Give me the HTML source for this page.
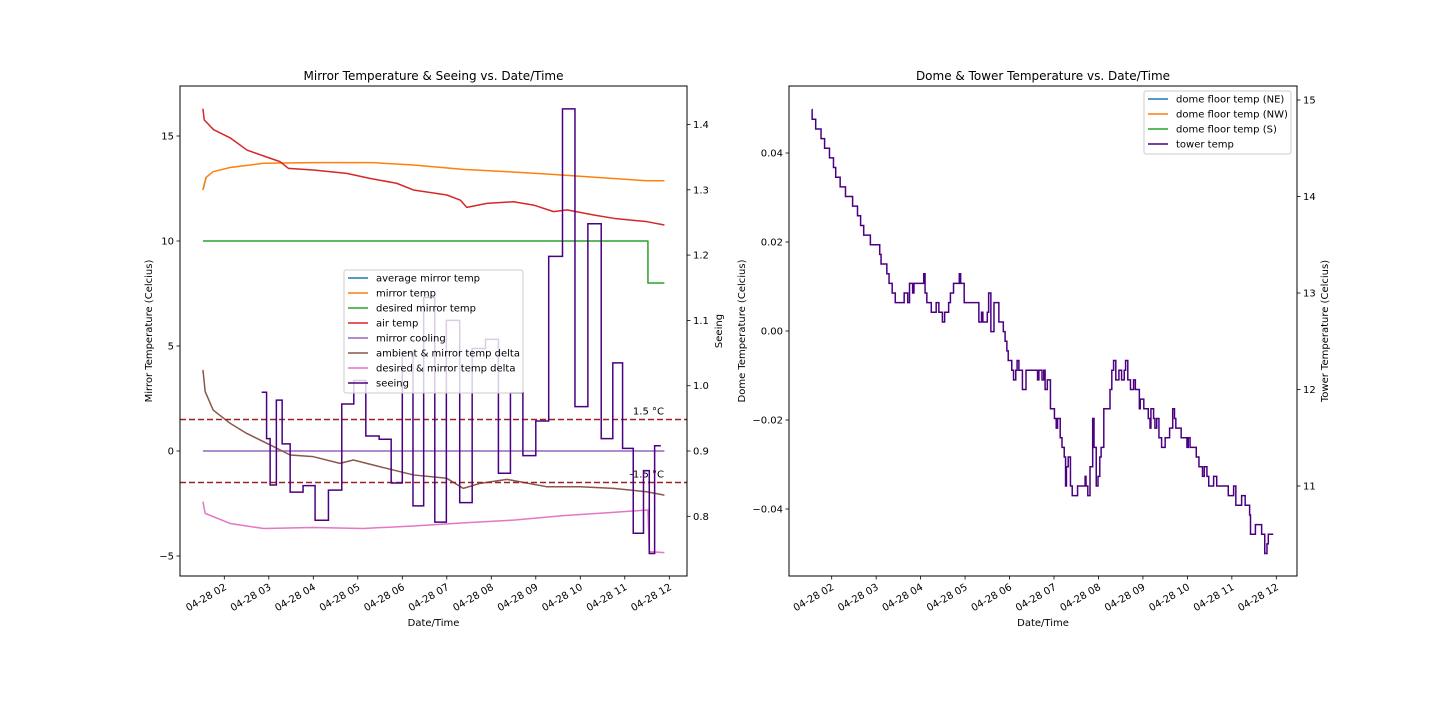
<!DOCTYPE html>
<html><head><meta charset="utf-8">
<style>
html,body{margin:0;padding:0;background:#fff;}
svg{display:block;font-family:"DejaVu Sans","Liberation Sans",sans-serif;}
</style></head>
<body>
<svg id="fig" width="1440" height="720" viewBox="0 0 1440 720" xmlns="http://www.w3.org/2000/svg"></svg>
<script>
// ---------- LEFT CHART DATA ----------
const hourTicks = [2,3,4,5,6,7,8,9,10,11,12];
const hourTickLabels = ["04-28 02","04-28 03","04-28 04","04-28 05","04-28 06","04-28 07","04-28 08","04-28 09","04-28 10","04-28 11","04-28 12"];
const mirrorTempTicks = [-5,0,5,10,15];
const seeingTicks = [0.8,0.9,1.0,1.1,1.2,1.3,1.4];
const seeingTickLabels = ["0.8","0.9","1.0","1.1","1.2","1.3","1.4"];

const airHours = [1.52,1.55,1.76,2.14,2.51,2.95,3.25,3.44,4.0,4.75,5.27,5.87,6.25,7.0,7.3,7.45,7.9,8.5,8.95,9.4,9.7,10.3,10.75,11.5,11.89];
const airTemp  = [16.3,15.76,15.3,14.9,14.33,14.0,13.78,13.46,13.38,13.22,12.98,12.75,12.43,12.19,11.95,11.6,11.79,11.87,11.71,11.4,11.48,11.24,11.08,10.92,10.76];

const mirrorHours = [1.52,1.59,1.75,2.13,2.88,4.0,5.35,6.25,7.37,8.12,9.24,10.37,11.49,11.89];
const mirrorTemp  = [12.43,13.03,13.3,13.5,13.7,13.73,13.73,13.62,13.41,13.33,13.19,13.03,12.87,12.87];

const desiredHours = [1.52,11.52,11.52,11.89];
const desiredTemp  = [10,10,8,8];

const coolingHours = [1.52,11.89];
const coolingValue = [0,0];

const ambDeltaHours = [1.52,1.57,1.75,2.13,2.5,3.03,3.48,4.0,4.6,4.9,5.5,6.25,7.0,7.37,7.75,8.35,9.24,10.0,10.74,11.49,11.89];
const ambDelta      = [3.86,2.83,1.95,1.32,0.84,0.29,-0.19,-0.27,-0.59,-0.43,-0.75,-1.14,-1.30,-1.78,-1.54,-1.35,-1.70,-1.70,-1.78,-1.94,-2.1];

const desDeltaHours = [1.52,1.57,2.13,2.88,4.0,5.12,6.25,7.37,8.5,9.62,10.74,11.52,11.55,11.89];
const desDelta      = [-2.41,-2.97,-3.45,-3.69,-3.64,-3.69,-3.57,-3.42,-3.29,-3.08,-2.92,-2.81,-4.79,-4.84];

const seeingHours = [2.84,2.95,3.03,3.17,3.30,3.48,3.77,4.04,4.34,4.64,4.91,5.18,5.48,5.75,6.00,6.24,6.48,6.73,6.99,7.29,7.57,7.87,8.16,8.43,8.71,9.00,9.29,9.60,9.88,10.17,10.47,10.73,10.95,11.19,11.42,11.55,11.67];
const seeingValue = [0.990,0.919,0.848,0.978,0.911,0.837,0.847,0.794,0.840,0.972,1.008,0.923,0.918,0.851,1.050,0.816,1.135,0.791,1.100,0.821,1.057,1.071,0.866,0.989,0.893,0.946,1.198,1.424,0.968,1.248,0.919,1.035,0.904,0.774,0.870,0.743,0.908];
const seeingEnd = 11.81;
const thresholds = [1.5,-1.5];

// ---------- RIGHT CHART DATA ----------
const domeTicks = [-0.04,-0.02,0.00,0.02,0.04];
const domeTickLabels = ["−0.04","−0.02","0.00","0.02","0.04"];
const towerTicks = [11,12,13,14,15];
const towerHours = [
 1.55,1.56,1.64,1.76,1.84,1.95,2.04,2.09,2.19,2.31,2.47,2.58,2.65,2.72,2.87,3.08,3.11,3.24,3.29,3.36,3.43,
 3.63,3.71,3.75,3.82,3.85,4.07,4.10,4.14,4.24,4.35,4.41,4.49,4.54,4.63,4.67,4.74,4.87,4.90,4.98,
 5.31,5.37,5.40,5.50,5.53,5.58,5.65,5.76,5.86,5.90,5.94,5.97,6.05,6.09,6.14,6.17,6.21,6.29,6.37,
 6.63,6.66,6.73,6.77,6.80,6.85,6.92,
 7.01,7.05,7.08,7.14,7.18,7.23,7.26,7.28,7.32,7.37,7.41,7.53,7.70,7.72,7.76,7.81,7.87,7.90,7.95,7.99,
 8.03,8.06,8.12,8.26,8.30,8.34,8.39,8.46,8.52,8.58,8.61,8.66,8.72,8.79,8.83,8.92,8.94,
 9.02,9.12,9.16,9.18,9.24,9.27,9.31,9.36,9.42,9.50,9.60,9.67,9.71,9.74,9.86,9.99,
 10.02,10.06,10.20,10.26,10.34,10.38,10.44,10.48,10.59,10.66,10.92,
 11.04,11.09,11.22,11.30,11.40,11.42,11.53,11.67,11.74,11.79,11.82];
const towerTemp = [
 14.9,14.8,14.7,14.6,14.5,14.4,14.3,14.2,14.1,14.0,13.9,13.8,13.7,13.6,13.5,13.4,13.3,13.2,13.1,13.0,12.9,
 13.0,12.9,13.1,13.0,13.1,13.2,13.0,12.9,12.8,12.9,12.8,12.7,12.8,12.9,13.0,13.1,13.2,13.1,12.9,
 12.7,12.8,12.7,12.8,13.0,12.6,12.9,12.7,12.6,12.5,12.4,12.3,12.2,12.1,12.2,12.3,12.2,12.0,12.2,
 12.1,12.2,12.1,12.2,12.0,12.1,11.8,
 11.7,11.6,11.7,11.5,11.4,11.3,11.0,11.2,11.3,11.0,10.9,11.0,11.1,11.0,10.9,11.2,11.7,11.4,11.0,11.1,
 11.3,11.4,11.8,12.0,12.2,12.3,12.1,12.2,12.1,12.2,12.3,12.1,12.0,12.1,12.0,11.8,11.9,
 11.8,11.7,11.6,11.8,11.7,11.6,11.7,11.5,11.4,11.5,11.6,11.8,11.7,11.6,11.5,11.4,
 11.5,11.4,11.3,11.2,11.1,11.2,11.1,11.0,11.1,11.0,10.9,
 11.0,10.8,10.9,10.8,10.7,10.5,10.6,10.5,10.3,10.4,10.5];
const towerEnd = 11.93;

// ---------- helpers ----------
const NS = "http://www.w3.org/2000/svg";
const svg = document.getElementById('fig');
function mk(tag, attrs, parent){
  const e = document.createElementNS(NS, tag);
  for (const k in attrs) e.setAttribute(k, attrs[k]);
  (parent||svg).appendChild(e);
  return e;
}
function txt(s, attrs, parent){ const t = mk('text', attrs, parent); t.textContent = s; return t; }

const L = {x0:180, x1:687, y0:86, y1:576};
const lx = h => 224.3 + (h-2)*44.5;
const ly = v => 451 - 21*v;
const sy = s => 451 - 653*(s-0.9);
const R = {x0:789, x1:1297, y0:86, y1:576};
const rx = h => 831.7 + (h-2)*44.46;
const dy = v => 331 - 4450*v;
const ty = t => 486 - 96.5*(t-11);

function linePath(xs, ys, fx, fy){
  return xs.map((x,i)=>(i?'L':'M')+fx(x).toFixed(2)+','+fy(ys[i]).toFixed(2)).join('');
}
function stepPath(xs, ys, end, fx, fy){
  let d = 'M'+fx(xs[0]).toFixed(2)+','+fy(ys[0]).toFixed(2);
  for (let i=1;i<xs.length;i++){
    d += 'L'+fx(xs[i]).toFixed(2)+','+fy(ys[i-1]).toFixed(2);
    d += 'L'+fx(xs[i]).toFixed(2)+','+fy(ys[i]).toFixed(2);
  }
  d += 'L'+fx(end).toFixed(2)+','+fy(ys[ys.length-1]).toFixed(2);
  return d;
}

// ===== LEFT CHART =====
const gL = mk('g', {});



const series = [
  {xs:mirrorHours, ys:mirrorTemp, c:'#1f77b4', n:'average-mirror-temp-line', sl:[1.52,1.59], sv:[12.43,13.03]},
  {xs:mirrorHours, ys:mirrorTemp, c:'#ff7f0e', n:'mirror-temp-line'},
  {xs:desiredHours, ys:desiredTemp, c:'#2ca02c', n:'desired-mirror-temp-line'},
  {xs:airHours, ys:airTemp, c:'#d62728', n:'air-temp-line'},
  {xs:coolingHours, ys:coolingValue, c:'#9467bd', n:'mirror-cooling-line'},
  {xs:ambDeltaHours, ys:ambDelta, c:'#8c564b', n:'ambient-mirror-delta-line'},
  {xs:desDeltaHours, ys:desDelta, c:'#e377c2', n:'desired-mirror-delta-line'}
];
series.forEach(s=>{
  const xs = s.sl||s.xs, ys = s.sv||s.ys;
  const p = mk('path', {d:linePath(xs, ys, lx, ly), fill:'none', stroke:s.c, 'stroke-width':1.5, 'stroke-linejoin':'round'}, gL);
  
  
});
thresholds.forEach((t,i)=>{
  const l = mk('line', {x1:L.x0, x2:L.x1, y1:ly(t), y2:ly(t), stroke:'#9b2222', 'stroke-width':1.6, 'stroke-dasharray':'6,3'}, gL);
  
  
  const tt = txt((t>0?'1.5':'-1.5')+' °C', {x:664, y:ly(t)-5, 'font-size':10, 'text-anchor':'end', fill:'#000'}, gL);
  
  
});
const seeP = mk('path', {d:stepPath(seeingHours, seeingValue, seeingEnd, lx, sy), fill:'none', stroke:'#4b0082', 'stroke-width':1.5}, gL);



const fL = mk('rect', {x:L.x0, y:L.y0, width:L.x1-L.x0, height:L.y1-L.y0, fill:'none', stroke:'#000', 'stroke-width':1}, gL);



function xTicks(g, ticks, labels, fx, yb){
  ticks.forEach((h,i)=>{
    const x = fx(h);
    mk('line', {x1:x, x2:x, y1:yb, y2:yb+3.5, stroke:'#000', 'stroke-width':0.8}, g);
    const t = txt(labels[i], {x:0, y:0, 'font-size':10, 'text-anchor':'end', transform:`translate(${x+3},${yb+13}) rotate(-30)`}, g);
    
    
  });
}
xTicks(gL, hourTicks, hourTickLabels, lx, L.y1);
mirrorTempTicks.forEach(v=>{
  const y = ly(v);
  mk('line', {x1:L.x0-3.5, x2:L.x0, y1:y, y2:y, stroke:'#000', 'stroke-width':0.8}, gL);
  const t = txt(v<0?'−'+Math.abs(v):String(v), {x:L.x0-6, y:y+3.5, 'font-size':10, 'text-anchor':'end'}, gL);
  
  
});
seeingTicks.forEach((v,i)=>{
  const y = sy(v);
  mk('line', {x1:L.x1, x2:L.x1+3.5, y1:y, y2:y, stroke:'#000', 'stroke-width':0.8}, gL);
  const t = txt(seeingTickLabels[i], {x:L.x1+6, y:y+3.5, 'font-size':10}, gL);
  
  
});
let t;
t = txt('Mirror Temperature & Seeing vs. Date/Time', {x:(L.x0+L.x1)/2, y:80, 'font-size':12, 'text-anchor':'middle'}, gL);
 
t = txt('Date/Time', {x:(L.x0+L.x1)/2, y:626, 'font-size':10, 'text-anchor':'middle'}, gL);
 
t = txt('Mirror Temperature (Celcius)', {x:0, y:0, 'font-size':10, 'text-anchor':'middle', transform:`translate(152,331) rotate(-90)`}, gL);
 
t = txt('Seeing', {x:0, y:0, 'font-size':10, 'text-anchor':'middle', transform:`translate(722,331) rotate(-90)`}, gL);
 

const legL = mk('g', {}, gL);


mk('rect', {x:344, y:270, width:179, height:123, rx:2, fill:'#fff', 'fill-opacity':0.8, stroke:'#ccc', 'stroke-width':1}, legL);
const legItemsL = [['average mirror temp','#1f77b4'],['mirror temp','#ff7f0e'],['desired mirror temp','#2ca02c'],['air temp','#d62728'],['mirror cooling','#9467bd'],['ambient & mirror temp delta','#8c564b'],['desired & mirror temp delta','#e377c2'],['seeing','#4b0082']];
legItemsL.forEach((it,i)=>{
  const y = 278 + i*15;
  const g = mk('g', {}, legL);
  
  
  mk('line', {x1:348, x2:368, y1:y, y2:y, stroke:it[1], 'stroke-width':1.5}, g);
  txt(it[0], {x:376, y:y+3.5, 'font-size':10}, g);
});

// ===== RIGHT CHART =====
const gR = mk('g', {});


const towP = mk('path', {d:stepPath(towerHours, towerTemp, towerEnd, rx, ty), fill:'none', stroke:'#4b0082', 'stroke-width':1.5}, gR);


const fR = mk('rect', {x:R.x0, y:R.y0, width:R.x1-R.x0, height:R.y1-R.y0, fill:'none', stroke:'#000', 'stroke-width':1}, gR);


xTicks(gR, hourTicks, hourTickLabels, rx, R.y1);
domeTicks.forEach((v,i)=>{
  const y = dy(v);
  mk('line', {x1:R.x0-3.5, x2:R.x0, y1:y, y2:y, stroke:'#000', 'stroke-width':0.8}, gR);
  const tt = txt(domeTickLabels[i], {x:R.x0-6, y:y+3.5, 'font-size':10, 'text-anchor':'end'}, gR);
  
  
});
towerTicks.forEach(v=>{
  const y = ty(v);
  mk('line', {x1:R.x1, x2:R.x1+3.5, y1:y, y2:y, stroke:'#000', 'stroke-width':0.8}, gR);
  const tt = txt(String(v), {x:R.x1+6, y:y+3.5, 'font-size':10}, gR);
  
  
});
t = txt('Dome & Tower Temperature vs. Date/Time', {x:(R.x0+R.x1)/2, y:80, 'font-size':12, 'text-anchor':'middle'}, gR);
 
t = txt('Date/Time', {x:(R.x0+R.x1)/2, y:626, 'font-size':10, 'text-anchor':'middle'}, gR);
 
t = txt('Dome Temperature (Celcius)', {x:0, y:0, 'font-size':10, 'text-anchor':'middle', transform:`translate(745,331) rotate(-90)`}, gR);
 
t = txt('Tower Temperature (Celcius)', {x:0, y:0, 'font-size':10, 'text-anchor':'middle', transform:`translate(1328,331) rotate(-90)`}, gR);
 

const legR = mk('g', {}, gR);


mk('rect', {x:1144, y:91, width:147, height:63, rx:2, fill:'#fff', 'fill-opacity':0.8, stroke:'#ccc', 'stroke-width':1}, legR);
const legItemsR = [['dome floor temp (NE)','#1f77b4'],['dome floor temp (NW)','#ff7f0e'],['dome floor temp (S)','#2ca02c'],['tower temp','#4b0082']];
legItemsR.forEach((it,i)=>{
  const y = 99 + i*15;
  const g = mk('g', {}, legR);
  
  
  mk('line', {x1:1148, x2:1168, y1:y, y2:y, stroke:it[1], 'stroke-width':1.5}, g);
  txt(it[0], {x:1176, y:y+3.5, 'font-size':10}, g);
});
</script>
</body></html>
